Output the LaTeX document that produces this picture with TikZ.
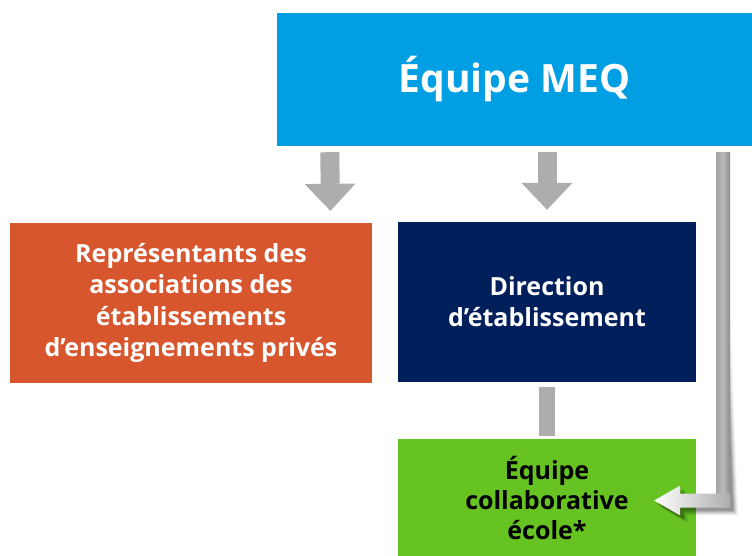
\documentclass[tikz,border=0pt]{standalone}
\usepackage{fontspec}
\setmainfont{Open Sans}
\usetikzlibrary{arrows.meta,calc}
\definecolor{meqblue}{HTML}{009FE3}
\definecolor{meqorange}{HTML}{D8562D}
\definecolor{meqnavy}{HTML}{001F5B}
\definecolor{meqgreen}{HTML}{67C321}
\definecolor{arrowgray}{HTML}{ADADAD}
\tikzset{
  box/.style={rectangle, inner sep=0pt, align=center, text=white,
    font=\fontsize{25}{31}\selectfont\bfseries},
  blockarrow/.style={draw=arrowgray, line width=19pt,
    -{Triangle[width=51pt,length=27pt,line width=0pt]}},
  barlink/.style={draw=arrowgray, line width=16pt},
}
\begin{document}
\begin{tikzpicture}[x=1pt,y=-1pt]
\useasboundingbox (0,0) rectangle (752,556);
\node[box, fill=meqblue, minimum width=475pt, minimum height=133pt,
  font=\fontsize{39}{48}\selectfont\bfseries] (blue) at (514.5,79.5) {Équipe MEQ};
\node[box, fill=meqorange, minimum width=362.5pt, minimum height=160pt,
  font=\fontsize{25}{31.5}\selectfont\bfseries] (orange) at (191,303)
  {Représentants des\\associations des\\établissements\\d’enseignements privés};
\node[box, fill=meqnavy, minimum width=298pt, minimum height=160pt] (navy) at (547,302)
  {Direction\\d’établissement};
\node[box, fill=meqgreen, minimum width=298pt, minimum height=118pt, text=black,
  font=\fontsize{25}{30}\selectfont\bfseries] (green) at (547,497.5)
  {Équipe\\collaborative\\école*};
% straight arrows
\draw[blockarrow] ($(blue.south west)+(53,6)$) -- ($(orange.north east)+(-42,-12)$);
\draw[blockarrow] ($(blue.south -| navy.north)+(0,6)$) -- ($(navy.north)+(0,-12)$);
\draw[barlink] ($(navy.south)+(0,5)$) -- ($(green.north)+(0,-2)$);
% elbow arrow
\coordinate (e1) at ($(blue.south east)+(-29,6)$);
\coordinate (etip) at ($(green.east)+(-42,3)$);
\foreach \o/\a in {8/0.04,7/0.06,6/0.08,5/0.10,4/0.12,3/0.12}{
  \fill[black, opacity=\a]
    ($(e1)+(-7+\o,\o)$) -- ($(e1 |- etip)+(7+\o,7+\o)$) -- ($(etip)+(26+\o,7+\o)$)
    -- ($(etip)+(26+\o,15+\o)$) -- ($(etip)+(\o,\o)$) -- ($(etip)+(26+\o,-15+\o)$)
    -- ($(etip)+(26+\o,-7+\o)$) -- ($(e1 |- etip)+(-7+\o,-7+\o)$) -- ($(e1)+(-7+\o,\o)$) -- cycle;
}
\shade[left color=arrowgray!95!black, right color=arrowgray!80!black, middle color=arrowgray!85!white]
  ($(e1)+(-7,0)$) rectangle ($(e1 |- etip)+(7,7)$);
\shade[left color=white, right color=arrowgray]
  (etip) -- ($(etip)+(26,-15)$) -- ($(etip)+(26,-7)$) -- ($(e1 |- etip)+(7,-7)$)
  -- ($(e1 |- etip)+(7,7)$) -- ($(etip)+(26,7)$) -- ($(etip)+(26,15)$) -- cycle;
\end{tikzpicture}
\end{document}
